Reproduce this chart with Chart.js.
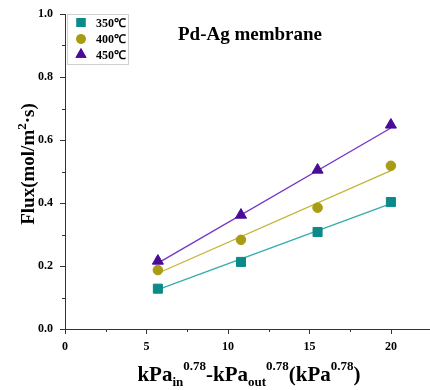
<!DOCTYPE html>
<html>
<head>
<meta charset="utf-8">
<script src="https://cdn.jsdelivr.net/npm/chart.js@4"></script>
<style>
html, body { margin: 0; padding: 0; background: #fff; overflow: hidden; }
#wrap { width: 430px; height: 390px; }
canvas { display: block; }
</style>
</head>
<body>
<div id="wrap"><canvas id="chart"></canvas></div>
<script>
// series
const seriesNames = ["350℃", "400℃", "450℃"];
const xValues = [5.7, 10.8, 15.5, 20.0];
const flux350 = [0.128, 0.213, 0.308, 0.403];
const flux400 = [0.187, 0.283, 0.385, 0.518];
const flux450 = [0.216, 0.362, 0.505, 0.648];

// fitted lines (end points)
const fitX = [5.7, 20.0];
const fit350 = [0.125, 0.398];
const fit400 = [0.177, 0.503];
const fit450 = [0.209, 0.638];

const xMajorTicks = [0, 5, 10, 15, 20];
const xMinorTicks = [2.5, 7.5, 12.5, 17.5];
const yMajorTicks = [0, 0.2, 0.4, 0.6, 0.8, 1.0];
const yMinorTicks = [0.1, 0.3, 0.5, 0.7, 0.9];

const markerColors = ["#0b8a8a", "#a99c13", "#4a0b99"];
const lineColors = ["#35acac", "#c2b536", "#7434c8"];
const markerStyles = ["rect", "circle", "triangle"];
const markerRadius = [6.4, 4.8, 6.4];

const serif = "'Liberation Serif', 'Times New Roman', serif";

function toPoints(xs, ys) {
    return xs.map((x, i) => ({ x: x, y: ys[i] }));
}

const pointSets = [flux350, flux400, flux450];
const fitSets = [fit350, fit400, fit450];

const datasets = [];
fitSets.forEach((f, i) => {
    datasets.push({
        label: seriesNames[i] + " fit",
        data: toPoints(fitX, f),
        showLine: true,
        borderColor: lineColors[i],
        borderWidth: 1.3,
        pointRadius: 0,
        order: 2
    });
});
pointSets.forEach((p, i) => {
    datasets.push({
        label: seriesNames[i],
        data: toPoints(xValues, p),
        showLine: false,
        pointStyle: markerStyles[i],
        pointRadius: markerRadius[i],
        pointBackgroundColor: markerColors[i],
        pointBorderColor: markerColors[i],
        pointBorderWidth: 1,
        order: 1
    });
});

// draws text pieces with sub/superscripts, centred on cx
function drawRich(ctx, parts, cx, baseY) {
    let total = 0;
    parts.forEach(p => {
        ctx.font = "bold " + p.size + "px " + serif;
        p.w = ctx.measureText(p.t).width;
        total += p.w;
    });
    let x = cx - total / 2;
    ctx.textAlign = "left";
    ctx.textBaseline = "alphabetic";
    parts.forEach(p => {
        ctx.font = "bold " + p.size + "px " + serif;
        ctx.fillText(p.t, x, baseY + (p.dy || 0));
        x += p.w;
    });
}

// no extra room for tick labels, the chart area is set by the layout padding
function noScalePadding(s) {
    s.paddingTop = 0;
    s.paddingBottom = 0;
    s.paddingLeft = 0;
    s.paddingRight = 0;
}

const decorPlugin = {
    id: "decor",
    afterDraw(chart) {
        const ctx = chart.ctx;
        const xs = chart.scales.x;
        const ys = chart.scales.y;
        const area = chart.chartArea;
        ctx.save();

        // tick marks, pointing outward
        ctx.strokeStyle = "#333";
        ctx.lineWidth = 1;
        ctx.beginPath();
        xMajorTicks.forEach(v => {
            const px = Math.round(xs.getPixelForValue(v)) + 0.5;
            ctx.moveTo(px, area.bottom);
            ctx.lineTo(px, area.bottom + 5);
        });
        xMinorTicks.forEach(v => {
            const px = Math.round(xs.getPixelForValue(v)) + 0.5;
            ctx.moveTo(px, area.bottom);
            ctx.lineTo(px, area.bottom + 3);
        });
        yMajorTicks.forEach(v => {
            const py = Math.round(ys.getPixelForValue(v)) + 0.5;
            ctx.moveTo(area.left, py);
            ctx.lineTo(area.left - 5, py);
        });
        yMinorTicks.forEach(v => {
            const py = Math.round(ys.getPixelForValue(v)) + 0.5;
            ctx.moveTo(area.left, py);
            ctx.lineTo(area.left - 3, py);
        });
        ctx.stroke();

        ctx.fillStyle = "#000";

        // title inside plot
        ctx.font = "bold 19px " + serif;
        ctx.textAlign = "center";
        ctx.textBaseline = "alphabetic";
        ctx.fillText("Pd-Ag membrane", 250, 40);

        // x axis title
        drawRich(ctx, [
            { t: "kPa", size: 21 },
            { t: "in", size: 13, dy: 5 },
            { t: "0.78", size: 13, dy: -11 },
            { t: "-kPa", size: 21 },
            { t: "out", size: 13, dy: 5 },
            { t: "0.78", size: 13, dy: -11 },
            { t: "(kPa", size: 21 },
            { t: "0.78", size: 13, dy: -11 },
            { t: ")", size: 21 }
        ], 249, 381);

        // y axis title
        ctx.save();
        ctx.translate(34, 164);
        ctx.rotate(-Math.PI / 2);
        drawRich(ctx, [
            { t: "Flux(mol/m", size: 19 },
            { t: "2", size: 13, dy: -8 },
            { t: "·s)", size: 19 }
        ], 0, 0);
        ctx.restore();

        // legend box
        ctx.strokeStyle = "#cfcfcf";
        ctx.lineWidth = 1;
        ctx.strokeRect(67.5, 14.5, 61, 50);
        const legendY = [22.5, 39, 54.5];
        seriesNames.forEach((name, i) => {
            ctx.fillStyle = markerColors[i];
            Chart.helpers.drawPoint(ctx, {
                pointStyle: markerStyles[i],
                radius: markerRadius[i],
                rotation: 0,
                borderWidth: 0
            }, 81, legendY[i]);
            ctx.fill();
            ctx.fillStyle = "#000";
            ctx.font = "bold 12px " + serif;
            ctx.textAlign = "left";
            ctx.textBaseline = "middle";
            ctx.fillText(name, 96, legendY[i] + 1);
        });

        ctx.restore();
    }
};

const chart = new Chart(document.getElementById("chart"), {
    type: "scatter",
    data: { datasets: datasets },
    options: {
        responsive: true,
        maintainAspectRatio: false,
        animation: false,
        layout: { autoPadding: false, padding: { top: 14, right: 0, left: 0, bottom: 0 } },
        plugins: {
            legend: { display: false },
            tooltip: { enabled: false }
        },
        scales: {
            x: {
                type: "linear",
                min: 0,
                max: 22.4,
                afterBuildTicks: s => { s.ticks = xMajorTicks.map(v => ({ value: v })); },
                afterFit: s => { s.height = 61; noScalePadding(s); },
                grid: { display: false, drawTicks: false },
                border: { display: true, color: "#333", width: 1 },
                ticks: {
                    color: "#000",
                    padding: 11,
                    maxRotation: 0,
                    font: { family: serif, size: 12, weight: "bold" }
                }
            },
            y: {
                type: "linear",
                min: 0,
                max: 1,
                afterBuildTicks: s => { s.ticks = yMajorTicks.map(v => ({ value: v })); },
                afterFit: s => { s.width = 65; noScalePadding(s); },
                grid: { display: false, drawTicks: false },
                border: { display: true, color: "#333", width: 1 },
                ticks: {
                    color: "#000",
                    padding: 12,
                    callback: v => Number(v).toFixed(1),
                    font: { family: serif, size: 12, weight: "bold" }
                }
            }
        }
    },
    plugins: [decorPlugin]
});
</script>
</body>
</html>
